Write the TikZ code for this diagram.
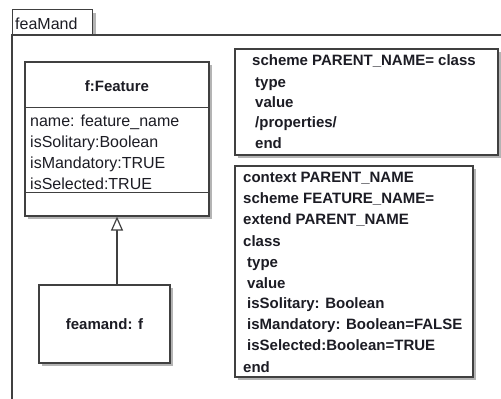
\documentclass[tikz,border=0pt]{standalone}
\usepackage{fontspec}
\setmainfont{Liberation Sans}
\usetikzlibrary{arrows.meta,shadows,calc}
\definecolor{ln}{HTML}{404040}
\definecolor{tx}{HTML}{1C1C24}
\definecolor{sh}{HTML}{B4B4B4}
\begin{document}
\begin{tikzpicture}[x=1pt,y=-1pt,
  box/.style={draw=ln, line width=1.2pt, fill=white, inner sep=0pt,
    drop shadow={shadow xshift=3pt, shadow yshift=-3pt, fill=sh, opacity=1}},
  reg/.style={font=\fontsize{16}{19}\selectfont, text=tx, inner sep=0pt, anchor=base west},
  bld/.style={font=\bfseries\fontsize{15}{19}\selectfont, text=tx, inner sep=0pt, anchor=base west},
  sep/.style={draw=ln, line width=1.2pt},
]
\useasboundingbox (0,0) rectangle (501,399);
\fill[white] (0,0) rectangle (501,399);

% tab and frame
\node[box, minimum width=80pt, minimum height=26pt, anchor=north west] (tab) at (12,9) {};
\node[reg] (tabt) at (15,29) {feaMand};
\fill[white] (12,35) rectangle (505,405);
\draw[sep] (505,35) -- (12,35) -- (12,405);

% f:Feature class box
\node[box, minimum width=184pt, minimum height=154pt] (feat) at (117,139) {};
\draw[sep] ($(feat.north west)+(0,46)$) -- ($(feat.north east)+(0,46)$);
\draw[sep] ($(feat.north west)+(0,131)$) -- ($(feat.north east)+(0,131)$);
\node[bld, anchor=center] (ftitle) at (117,86) {f:Feature};
\node[reg] (a1) at (30,126) {name: feature\_name};
\node[reg] (a2) at (30,147) {isSolitary:Boolean};
\node[reg] (a3) at (30,168) {isMandatory:TRUE};
\node[reg] (a4) at (30,189) {isSelected:TRUE};

% feamand box
\node[box, minimum width=131pt, minimum height=78pt,
      font=\bfseries\fontsize{15}{19}\selectfont, text=tx] (fm) at (104.5,324) {feamand: f};

% generalization arrow
\draw[draw=ln, line width=1.2pt, -{Triangle[open, length=14pt, width=12pt, fill=white]}]
  (fm.north -| feat.south) -- (feat.south);

% scheme box 1
\node[box, minimum width=263pt, minimum height=106pt] (s1) at (366.5,102) {};
\node[bld] (s1a) at (252,65.5) {scheme PARENT\_NAME= class};
\node[bld] (s1b) at (255,87.5) {type};
\node[bld] (s1c) at (255,107.5) {value};
\node[bld] (s1d) at (255,127.5) {/properties/};
\node[bld] (s1e) at (255,148.5) {end};

% scheme box 2
\node[box, minimum width=238pt, minimum height=211pt] (s2) at (354,271.5) {};
\node[bld] (s2a) at (243,182.5) {context PARENT\_NAME};
\node[bld] (s2b) at (243,203.5) {scheme FEATURE\_NAME=};
\node[bld] (s2c) at (243,224.5) {extend PARENT\_NAME};
\node[bld] (s2d) at (243,246.5) {class};
\node[bld] (s2e) at (247,267.5) {type};
\node[bld] (s2f) at (247,288.5) {value};
\node[bld] (s2g) at (247,308.5) {isSolitary: Boolean};
\node[bld] (s2h) at (247,329.5) {isMandatory: Boolean=FALSE};
\node[bld] (s2i) at (247,350.5) {isSelected:Boolean=TRUE};
\node[bld] (s2j) at (243,372.5) {end};
\end{tikzpicture}
\end{document}
